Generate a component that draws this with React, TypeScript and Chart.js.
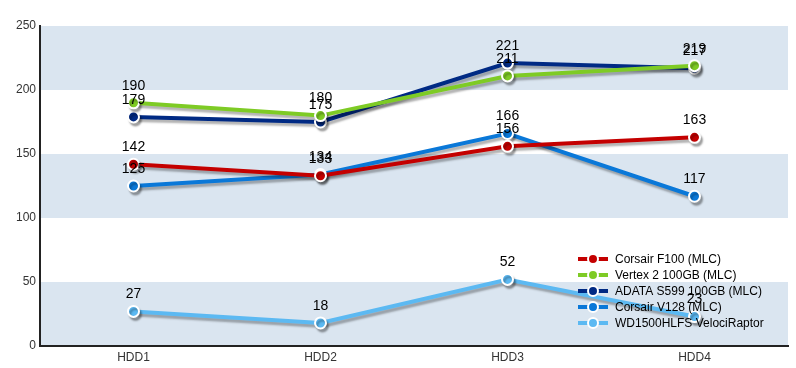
import React, { useEffect, useRef } from "react";
import { Chart, registerables } from "chart.js";

Chart.register(...registerables);

const categories = ["HDD1", "HDD2", "HDD3", "HDD4"];
const seriesNames = [
  "Corsair F100 (MLC)",
  "Vertex 2 100GB (MLC)",
  "ADATA S599 100GB (MLC)",
  "Corsair V128 (MLC)",
  "WD1500HLFS VelociRaptor",
];
const corsairF100 = [142, 133, 156, 163];
const vertex2 = [190, 180, 211, 219];
const adataS599 = [179, 175, 221, 217];
const corsairV128 = [125, 134, 166, 117];
const velociRaptor = [27, 18, 52, 23];
const seriesColors = ["#c40000", "#7ecb25", "#002a84", "#0a78d8", "#5cb9f2"];
const yTickValues = [0, 50, 100, 150, 200, 250];
const bandRanges = [
  [0, 50],
  [100, 150],
  [200, 250],
];

const FONT = "Arial, 'Liberation Sans', sans-serif";

const bandsPlugin = {
  id: "bands",
  beforeDraw(chart: any) {
    const { ctx, chartArea, scales } = chart;
    const y = scales.y;
    ctx.save();
    ctx.fillStyle = "#dae5f0";
    for (const [a, b] of bandRanges) {
      const t = y.getPixelForValue(b);
      const bt = y.getPixelForValue(a);
      ctx.fillRect(chartArea.left, t, chartArea.right - chartArea.left, bt - t);
    }
    ctx.restore();
  },
};

const shadowPlugin = {
  id: "lineShadow",
  beforeDatasetDraw(chart: any) {
    const ctx = chart.ctx;
    ctx.save();
    ctx.shadowColor = "rgba(0,0,0,0.3)";
    ctx.shadowOffsetX = 2;
    ctx.shadowOffsetY = 3;
    ctx.shadowBlur = 2;
  },
  afterDatasetDraw(chart: any) {
    chart.ctx.restore();
  },
};

const labelsLegendPlugin = {
  id: "labelsLegend",
  afterDatasetsDraw(chart: any) {
    const { ctx, chartArea } = chart;
    ctx.save();
    // value labels
    ctx.font = `14px ${FONT}`;
    ctx.fillStyle = "#000";
    ctx.textAlign = "center";
    ctx.textBaseline = "middle";
    chart.data.datasets.forEach((ds: any, i: number) => {
      const meta = chart.getDatasetMeta(i);
      meta.data.forEach((pt: any, j: number) => {
        ctx.fillText(String(ds.data[j]), pt.x, pt.y - 17);
      });
    });
    // legend
    const x0 = chartArea.right - 210;
    const y0 = chartArea.bottom - 87;
    ctx.font = `12px ${FONT}`;
    ctx.textAlign = "left";
    chart.data.datasets.forEach((ds: any, i: number) => {
      const yy = y0 + i * 16;
      ctx.strokeStyle = ds.borderColor;
      ctx.lineWidth = 4;
      ctx.beginPath();
      ctx.moveTo(x0, yy);
      ctx.lineTo(x0 + 30, yy);
      ctx.stroke();
      ctx.beginPath();
      ctx.arc(x0 + 15, yy, 5, 0, Math.PI * 2);
      ctx.fillStyle = ds.borderColor;
      ctx.fill();
      ctx.lineWidth = 2;
      ctx.strokeStyle = "#fff";
      ctx.stroke();
      ctx.fillStyle = "#000";
      ctx.fillText(ds.label, x0 + 37, yy + 1);
    });
    ctx.restore();
  },
};

export default function App() {
  const ref = useRef<HTMLCanvasElement>(null);
  useEffect(() => {
    document.body.style.margin = "0";
    const values = [corsairF100, vertex2, adataS599, corsairV128, velociRaptor];
    const chart = new Chart(ref.current as HTMLCanvasElement, {
      type: "line",
      data: {
        labels: categories,
        datasets: values.map((d, i) => ({
          label: seriesNames[i],
          data: d,
          borderColor: seriesColors[i],
          backgroundColor: seriesColors[i],
          pointBackgroundColor: seriesColors[i],
          pointBorderColor: "#fff",
          pointBorderWidth: 2,
          pointRadius: 5.5,
          borderWidth: 4,
          tension: 0,
          fill: false,
        })),
      },
      options: {
        responsive: false,
        animation: false,
        events: [],
        layout: { padding: { top: 26, right: 8, left: 0, bottom: 0 } },
        plugins: {
          legend: { display: false },
          tooltip: { enabled: false },
        },
        scales: {
          x: {
            offset: true,
            grid: { display: false, drawTicks: false },
            border: { display: true, color: "#222", width: 2 },
            ticks: { color: "#333", font: { family: FONT, size: 12 }, padding: 4 },
            afterFit: (s: any) => {
              s.height = 22;
            },
          },
          y: {
            min: 0,
            max: 250,
            afterBuildTicks: (s: any) => {
              s.ticks = yTickValues.map((v) => ({ value: v }));
            },
            grid: { display: false, drawTicks: false },
            border: { display: true, color: "#222", width: 2 },
            ticks: { color: "#333", font: { family: FONT, size: 12 }, padding: 4 },
            afterFit: (s: any) => {
              s.width = 40;
            },
          },
        },
      },
      plugins: [bandsPlugin, shadowPlugin, labelsLegendPlugin],
    });
    return () => chart.destroy();
  }, []);
  return (
    <div style={{ position: "fixed", left: 0, top: 0, width: 796, height: 368, background: "#fff" }}>
      <canvas ref={ref} width={796} height={368} />
    </div>
  );
}
